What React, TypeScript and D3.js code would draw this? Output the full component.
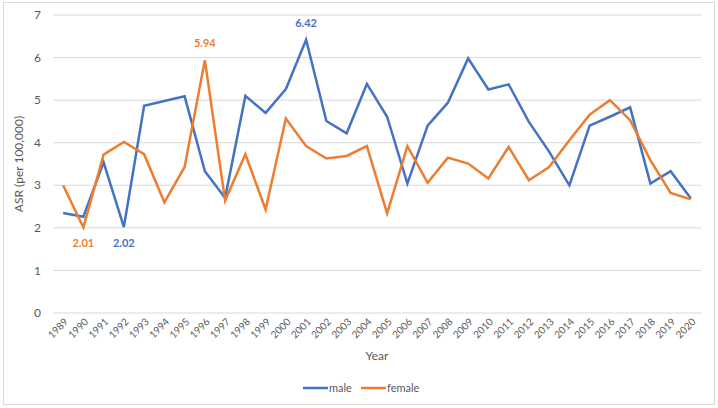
import { useEffect, useRef } from 'react'
import * as d3 from 'd3'

const W = 718
const H = 408
const MARGIN = { top: 15, right: 17, bottom: 95, left: 53 }

const YEARS = d3.range(1989, 2021).map(String)
const MALE = [
  2.35, 2.26, 3.54, 2.02, 4.87, 4.98, 5.09, 3.33, 2.7, 5.1, 4.7, 5.26, 6.42, 4.51, 4.22, 5.38,
  4.61, 3.04, 4.4, 4.94, 5.98, 5.25, 5.37, 4.49, 3.79, 3.0, 4.4, 4.61, 4.83, 3.04, 3.33, 2.69,
]
const FEMALE = [
  3.0, 2.01, 3.72, 4.02, 3.73, 2.6, 3.43, 5.94, 2.64, 3.73, 2.43, 4.57, 3.92, 3.63, 3.69, 3.92,
  2.34, 3.92, 3.06, 3.65, 3.51, 3.16, 3.9, 3.12, 3.43, 4.06, 4.66, 5.0, 4.53, 3.59, 2.82, 2.67,
]
const Y_TICKS = [0, 1, 2, 3, 4, 5, 6, 7]

// annotated extremes: [series, year, above?]
const NOTES = [
  { series: 'male', year: '2001', above: true },
  { series: 'male', year: '1992', above: false },
  { series: 'female', year: '1996', above: true },
  { series: 'female', year: '1990', above: false },
]

const COLORS: Record<string, string> = { male: '#4472C4', female: '#ED7D31' }
const FONT = 'Lato, "Open Sans", sans-serif'
const TEXT = '#595959'

export default function App() {
  const svgRef = useRef<SVGSVGElement>(null)

  useEffect(() => {
    document.body.style.margin = '0'
    const svg = d3.select(svgRef.current)
    svg.selectAll('*').remove()
    const iw = W - MARGIN.left - MARGIN.right
    const ih = H - MARGIN.top - MARGIN.bottom

    const x = d3.scaleBand().domain(YEARS).range([0, iw])
    const y = d3.scaleLinear().domain([0, 7]).range([ih, 0])
    const cx = (yr: string) => (x(yr) ?? 0) + x.bandwidth() / 2

    svg.append('rect').attr('x', 3.5).attr('y', 2.5).attr('width', W - 7).attr('height', H - 6)
      .attr('fill', '#fff').attr('stroke', '#d9d9d9')

    const g = svg.append('g').attr('transform', `translate(${MARGIN.left},${MARGIN.top})`)

    // gridlines
    g.selectAll('.grid').data(Y_TICKS).join('line')
      .attr('x1', 0).attr('x2', iw)
      .attr('y1', d => y(d)).attr('y2', d => y(d))
      .attr('stroke', '#d9d9d9').attr('stroke-width', 1)

    // y tick labels
    g.selectAll('.ytick').data(Y_TICKS).join('text')
      .attr('x', -12).attr('y', d => y(d)).attr('dy', '0.35em')
      .attr('text-anchor', 'end').attr('font-size', 12).attr('fill', TEXT)
      .attr('font-family', FONT).text(d => d)

    // x tick labels
    g.selectAll('.xtick').data(YEARS).join('text')
      .attr('transform', d => `translate(${cx(d) + 3},${ih + 7}) rotate(-45)`)
      .attr('text-anchor', 'end').attr('dy', '0.35em')
      .attr('font-size', 10).attr('fill', TEXT).attr('font-family', FONT).text(d => d)

    svg.append('text')
      .attr('transform', `translate(23,${MARGIN.top + ih / 2}) rotate(-90)`)
      .attr('text-anchor', 'middle').attr('font-size', 12).attr('fill', TEXT)
      .attr('font-family', FONT).text('ASR (per 100,000)')

    svg.append('text')
      .attr('x', MARGIN.left + iw / 2).attr('y', 360)
      .attr('text-anchor', 'middle').attr('font-size', 12).attr('fill', TEXT)
      .attr('font-family', FONT).text('Year')

    const series = [
      { key: 'male', values: MALE },
      { key: 'female', values: FEMALE },
    ]
    const line = d3.line<number>().x((_, i) => cx(YEARS[i])).y(d => y(d))
    series.forEach(s => {
      g.append('path').datum(s.values).attr('d', line)
        .attr('fill', 'none').attr('stroke', COLORS[s.key]).attr('stroke-width', 2.5)
        .attr('stroke-linejoin', 'miter')
    })

    NOTES.forEach(n => {
      const vals = n.series === 'male' ? MALE : FEMALE
      const v = vals[YEARS.indexOf(n.year)]
      g.append('text')
        .attr('x', cx(n.year)).attr('y', y(v) + (n.above ? -13 : 20))
        .attr('text-anchor', 'middle').attr('font-size', 11).attr('font-weight', 700)
        .attr('fill', COLORS[n.series]).attr('font-family', FONT).text(v.toFixed(2))
    })

    // legend
    const legend = [
      { key: 'male', x: 303 },
      { key: 'female', x: 361 },
    ]
    legend.forEach(l => {
      svg.append('line').attr('x1', l.x).attr('x2', l.x + 25).attr('y1', 388).attr('y2', 388)
        .attr('stroke', COLORS[l.key]).attr('stroke-width', 2.5)
      svg.append('text').attr('x', l.x + 26).attr('y', 388).attr('dy', '0.35em')
        .attr('font-size', 11).attr('fill', TEXT).attr('font-family', FONT).text(l.key)
    })
  }, [])

  return <svg ref={svgRef} width={W} height={H} style={{ display: 'block' }} />
}
